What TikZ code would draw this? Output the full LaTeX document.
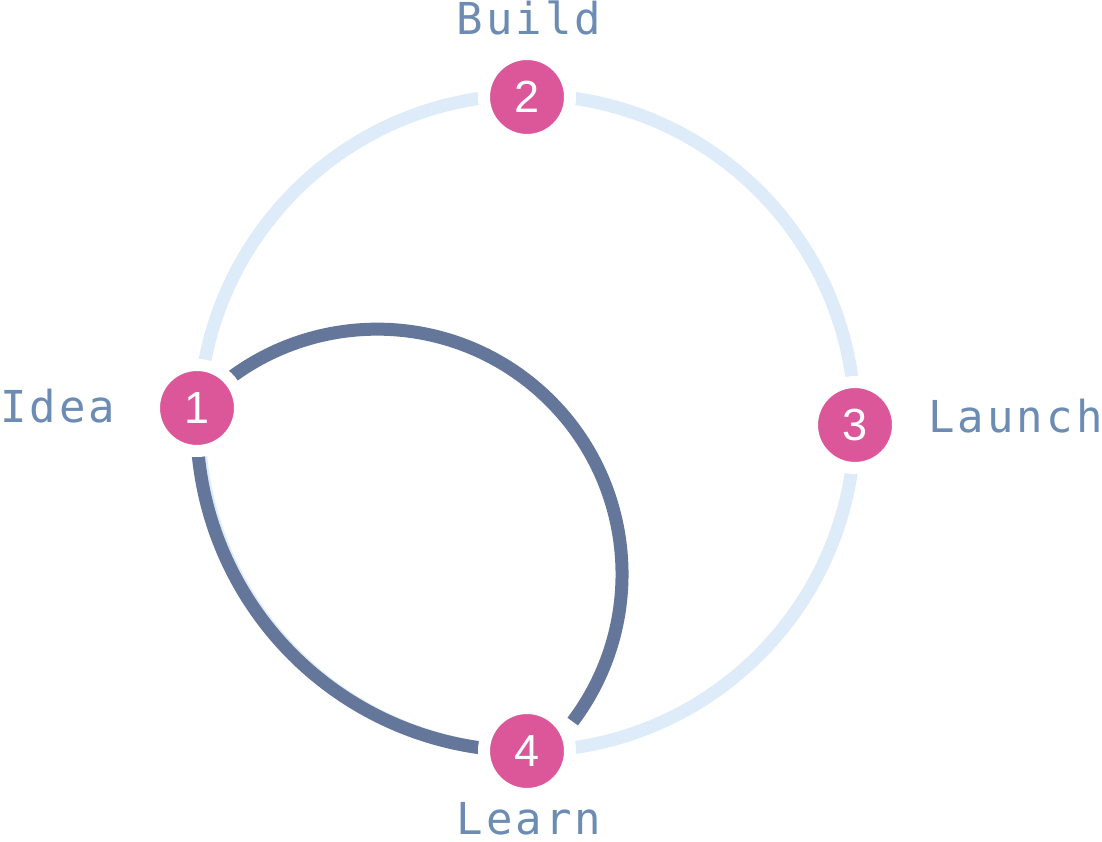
\documentclass[tikz,border=0pt]{standalone}
\usepackage{fontspec}
\setmainfont{Liberation Sans}
\newfontfamily\labelfont[LetterSpace=7]{DejaVu Sans Mono}
\usetikzlibrary{backgrounds}
\definecolor{ringlight}{HTML}{DEEBF8}
\definecolor{ringdark}{HTML}{64769A}
\definecolor{stepcol}{HTML}{DC5799}
\definecolor{labelcol}{HTML}{6D8CB3}
\tikzset{
  stepnode/.style={circle, fill=stepcol, draw=white, line width=12pt, minimum size=86pt, inner sep=0pt,
    text=white, font=\fontsize{45}{45}\selectfont},
  lightring/.style={draw=ringlight, line width=13pt},
  darkring/.style={draw=ringdark, line width=13pt},
  steplabel/.style={text=labelcol, inner sep=0pt, font=\labelfont\fontsize{44}{44}\selectfont}
}
\begin{document}
\begin{tikzpicture}[x=1pt,y=1pt]
\useasboundingbox (0,0) rectangle (1102,842);
\coordinate (C) at (527,419);
\coordinate (C2) at (377,268);
\node[stepnode] (n1) at (197,434) {1};
\node[stepnode] (n2) at (527,745) {2};
\node[stepnode] (n3) at (855,417) {3};
\node[stepnode] (n4) at (527,91) {4};
\node[steplabel, anchor=base west] (l1) at (0,419) {Idea};
\node[steplabel, anchor=base] (l2) at (529,807) {Build};
\node[steplabel, anchor=base west] (l3) at (928,409) {Launch};
\node[steplabel, anchor=base] (l4) at (529,7) {Learn};
\begin{pgfonlayer}{background}
\draw[lightring] (C) circle[radius=328];
\draw[darkring] (n1.center) arc[start angle=177.4, end angle=270, radius=328];
\draw[darkring] (n1.center) arc[start angle=137.3, end angle=-37, radius=245];
\end{pgfonlayer}
\end{tikzpicture}
\end{document}
